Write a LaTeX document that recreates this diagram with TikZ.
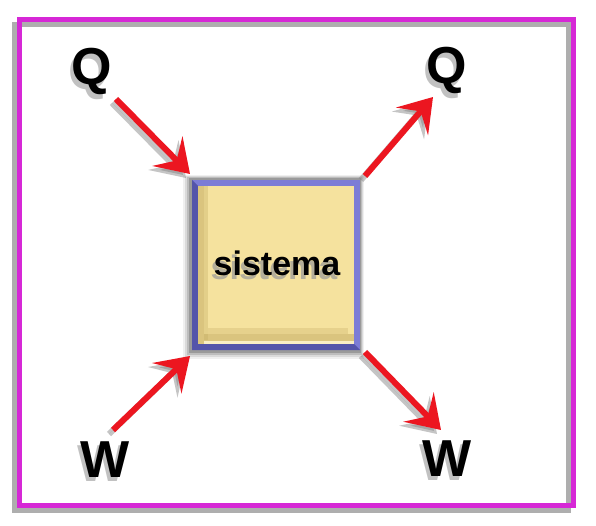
\documentclass[tikz,border=0pt]{standalone}
\usepackage{fontspec}
\setmainfont{Liberation Sans}
\usetikzlibrary{arrows.meta,calc}
\definecolor{arrred}{RGB}{236,22,32}
\definecolor{frmag}{RGB}{214,40,214}
\definecolor{boxblue}{RGB}{124,124,214}
\definecolor{boxblued}{RGB}{84,84,170}
\definecolor{boxfill}{RGB}{245,226,158}
\definecolor{boxdark}{RGB}{196,172,100}
\begin{document}
\begin{tikzpicture}[x=1pt,y=-1pt,
  lbl/.style={font=\bfseries\fontsize{52}{52}\selectfont, text=black, inner sep=0pt},
  lblsh/.style={font=\bfseries\fontsize{52}{52}\selectfont, text=black!40, opacity=.6, inner sep=0pt},
  tip/.style={-{Stealth[length=32pt,width=42pt,inset=13pt]}},
  arr/.style={tip, draw=arrred, fill=arrred, line width=6pt},
  arrsh/.style={tip, draw=black!50, fill=black!50, opacity=.45, line width=6pt}]
\useasboundingbox (0,0) rectangle (596,526);
\fill[white] (0,0) rectangle (596,526);
% frame
\draw[black!45, opacity=.7, line width=5pt] (14.5,25) rectangle (568,510);
\draw[frmag, line width=5pt] (19.5,20) rectangle (573,505);
% box shadow
\foreach \o/\a in {9/.06,7/.09,5/.13,3/.18}{
  \fill[black, opacity=\a] (192-\o,180-\o*0.6) rectangle (360+\o*0.4,350+\o);
}
% box
\coordinate (bnw) at (192,180);
\coordinate (bse) at (360,350);
\fill[boxblue] (bnw) rectangle (bse);
\fill[boxblued] (192,180) -- (198,186) -- (198,344) -- (354,344) -- (360,350) -- (192,350) -- cycle;
\fill[boxfill] (198,186) rectangle (354,344);
\fill[boxdark, opacity=.55] (198,186) rectangle (204,344);
\fill[boxdark, opacity=.35] (204,186) rectangle (208,340);
\fill[boxdark, opacity=.55] (204,334) rectangle (354,341);
\fill[boxdark, opacity=.3] (208,328) rectangle (348,334);
\fill[white, opacity=.4] (204,341) rectangle (354,344);
\node[font=\bfseries\fontsize{34}{34}\selectfont, text=black!40, opacity=.7] at (274,267) {sistema};
\node[font=\bfseries\fontsize{34}{34}\selectfont, text=black] (box) at (277,263) {sistema};
% labels
\node[lblsh] at (89,76) {Q};
\node[lbl] (q1) at (92,71) {Q};
\node[lblsh] at (444,75) {Q};
\node[lbl] (q2) at (447,70) {Q};
\node[lblsh] at (102,464) {W};
\node[lbl] (w1) at (105,460) {W};
\node[lblsh] at (444,463) {W};
\node[lbl] (w2) at (447,459) {W};
% arrow endpoints
\coordinate (a1s) at (116,99);
\coordinate (a1e) at (190,174);
\coordinate (a2s) at (365,176);
\coordinate (a2e) at (433,97);
\coordinate (a3s) at (113,430);
\coordinate (a3e) at (190,356);
\coordinate (a4s) at (365,352);
\coordinate (a4e) at (441,430);
\foreach \s/\e in {a1s/a1e,a2s/a2e,a3s/a3e,a4s/a4e}{
  \draw[arrsh] ($(\s)+(-4,4)$) -- ($(\e)+(-4,4)$);
}
\foreach \s/\e in {a1s/a1e,a2s/a2e,a3s/a3e,a4s/a4e}{
  \draw[arr] (\s) -- (\e);
}
\end{tikzpicture}
\end{document}
